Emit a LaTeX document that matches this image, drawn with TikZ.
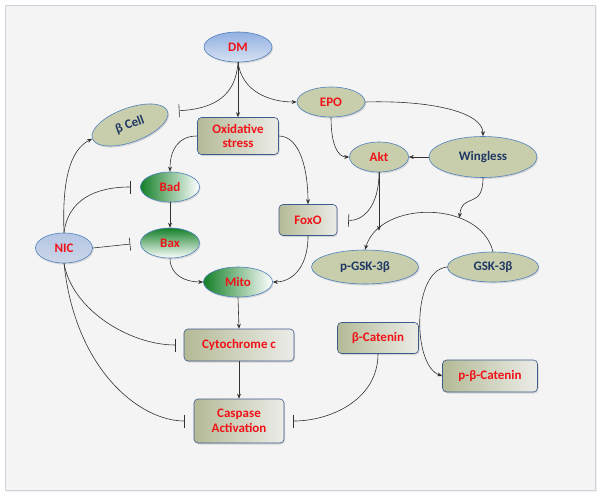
\documentclass[tikz,border=0pt]{standalone}
\usepackage{fontspec}
\setmainfont{Carlito}
\usetikzlibrary{arrows.meta,shapes.geometric,shadows}
\definecolor{txtred}{RGB}{240,18,24}
\definecolor{txtblue}{RGB}{31,56,100}
\definecolor{nodeborder}{RGB}{79,129,189}
\definecolor{boxborder}{RGB}{60,90,140}
\definecolor{sagefill}{RGB}{200,205,172}
\definecolor{boxL}{RGB}{180,186,150}
\definecolor{boxR}{RGB}{236,236,232}
\definecolor{greenD}{RGB}{20,128,40}
\definecolor{blueT}{RGB}{145,176,225}
\definecolor{blueB}{RGB}{215,225,242}
\definecolor{nicT}{RGB}{180,198,228}
\definecolor{nicB}{RGB}{205,214,232}
\definecolor{linec}{RGB}{50,50,50}
\definecolor{panelfill}{RGB}{244,244,244}
\definecolor{panelborder}{RGB}{205,210,220}
\tikzset{
  base/.style={draw=nodeborder, line width=0.6pt, inner sep=0pt, text=txtred,
    drop shadow={opacity=0.25, shadow xshift=1pt, shadow yshift=-1.5pt}},
  ell/.style={base, ellipse},
  sage/.style={ell, fill=sagefill, text=txtblue},
  box/.style={base, rectangle, rounded corners=4pt, left color=boxL, right color=boxR,
    draw=boxborder, align=center},
  greenell/.style={ell, left color=greenD, right color=white},
  blueell/.style={ell, top color=blueT, bottom color=blueB},
  arr/.style={draw=linec, line width=0.6pt, -{Stealth[length=5pt,width=4pt]}},
  inh/.style={draw=linec, line width=0.6pt, -{Bar[width=13pt]}, shorten >=9pt},
}
\begin{document}
\begin{tikzpicture}[x=1pt,y=-1pt,font=\fontsize{13}{14.5}\selectfont\bfseries]
\useasboundingbox (0,0) rectangle (601,498);
\draw[draw=panelborder, fill=panelfill, line width=1pt,
  drop shadow={opacity=0.12, shadow xshift=1.5pt, shadow yshift=-1.5pt}] (5,5) rectangle (595,490);

% nodes
\node[blueell, minimum width=68pt, minimum height=30pt] (DM) at (238,47) {DM};
\node[sage, minimum width=80pt, minimum height=34pt, rotate=20] (bcell) at (130,125) {β Cell};
\node[box, minimum width=81pt, minimum height=37pt] (ox) at (238,136) {Oxidative\\stress};
\node[sage, text=txtred, minimum width=68pt, minimum height=30pt] (EPO) at (331,102) {EPO};
\node[sage, text=txtred, minimum width=59pt, minimum height=30pt] (Akt) at (379,157) {Akt};
\node[sage, minimum width=108pt, minimum height=41pt] (wing) at (483,157) {Wingless};
\node[greenell, minimum width=59pt, minimum height=30pt] (Bad) at (170,187) {Bad};
\node[ell, top color=greenD, bottom color=white, minimum width=59pt, minimum height=30pt] (Bax) at (170,243) {Bax};
\node[ell, top color=nicT, bottom color=nicB, minimum width=57pt, minimum height=30pt] (NIC) at (64,248) {NIC};
\node[greenell, minimum width=69pt, minimum height=30pt] (Mito) at (238,282) {Mito};
\node[box, minimum width=58pt, minimum height=31pt] (FoxO) at (308,220) {FoxO};
\node[sage, minimum width=107pt, minimum height=34pt] (pGSK) at (365,267) {p-GSK-3β};
\node[sage, minimum width=91pt, minimum height=30pt] (GSK) at (493,267) {GSK-3β};
\node[box, minimum width=110pt, minimum height=32pt] (cyto) at (239,345) {Cytochrome c};
\node[box, minimum width=90pt, minimum height=44pt] (casp) at (239,421) {Caspase\\Activation};
\node[box, minimum width=81pt, minimum height=31pt] (bcat) at (378,338) {β-Catenin};
\node[box, minimum width=95pt, minimum height=32pt] (pbcat) at (490,376) {p-β-Catenin};

% GSK arc with points for modulating arrows
\draw[arr] (GSK.north) .. controls (480,200) and (380,200) ..
  coordinate[pos=0.32] (arcW) coordinate[pos=0.85] (arcA) (pGSK.north);

% connectors
\draw[arr] (DM.south) -- (ox.north);
\draw[inh, shorten >=11pt] (DM.south) .. controls (236,95) and (215,109) .. (bcell.east);
\draw[arr] (DM.south) .. controls (242,92) and (270,102) .. (EPO.west);
\draw[arr] (EPO.east) .. controls (430,100) and (483,112) .. (wing.north);
\draw[arr] (EPO.south) .. controls (331,145) and (338,157) .. (Akt.west);
\draw[arr] (wing.west) -- (Akt.east);
\draw[arr] (Akt.south) -- (Akt.south |- arcA);
\draw[arr] (wing.south) .. controls (483,210) and (462,192) .. (arcW);
\draw[inh, shorten >=11pt] (Akt.south) .. controls (379,208) and (362,221) .. (FoxO.east);
\draw[arr] (ox.west) .. controls (178,136) and (170,150) .. (Bad.north);
\draw[arr] (ox.east) .. controls (300,136) and (308,170) .. (FoxO.north);
\draw[arr] (Bad.south) -- (Bax.north);
\draw[arr] (Bax.south) .. controls (170,275) and (185,282) .. (Mito.west);
\draw[arr] (FoxO.south) .. controls (308,270) and (290,282) .. (Mito.east);
\draw[arr] (Mito.south) -- (cyto.north);
\draw[arr] (cyto.south) -- (casp.north);
\draw[arr] (NIC.north) .. controls (62,180) and (70,150) .. (bcell.west);
\draw[inh, shorten >=10pt] (NIC.north) .. controls (68,200) and (95,187) .. (Bad.west);
\draw[inh, shorten >=10pt] (NIC.east) -- (Bax.west);
\draw[inh, shorten >=8pt] (NIC.south) .. controls (72,310) and (130,345) .. (cyto.west);
\draw[inh] (NIC.south) .. controls (75,370) and (140,421) .. (casp.west);
\draw[inh] (bcat.south) .. controls (378,400) and (330,421) .. (casp.east);
\draw[arr] (GSK.west) .. controls (412,270) and (412,365) .. (pbcat.west);
\end{tikzpicture}
\end{document}
